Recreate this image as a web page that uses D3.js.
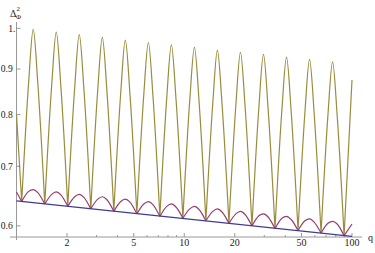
<!DOCTYPE html>
<html>
<head>
<meta charset="utf-8">
<script src="https://cdn.jsdelivr.net/npm/d3@7"></script>
<style>
  body { margin: 0; background: #fff; }
  svg { display: block; }
  text { font-family: "Liberation Serif", "DejaVu Serif", serif; fill: #222; }
</style>
</head>
<body>
<svg width="375" height="253"></svg>
<script>
// straight blue line (power law, straight on log-log axes)
var blueQ = [1, 100];
var blueVal = [0.640, 0.584];

// sample points: trough, rising side, top, falling side, ...
var qGrid = [1,
    1.074, 1.181, 1.258, 1.340,
    1.474, 1.621, 1.726, 1.839,
    2.021, 2.222, 2.367, 2.522,
    2.773, 3.049, 3.248, 3.460,
    3.803, 4.181, 4.454, 4.745,
    5.217, 5.736, 6.110, 6.509,
    7.155, 7.867, 8.380, 8.927,
    9.815, 10.79, 11.50, 12.25,
    13.46, 14.80, 15.76, 16.79,
    18.47, 20.31, 21.63, 23.04,
    25.33, 27.85, 29.67, 31.60,
    34.75, 38.21, 40.70, 43.36,
    47.67, 52.41, 55.83, 59.48,
    65.39, 71.90, 76.58, 81.59,
    89.71, 100];

var oliveVal = [0.80,
    0.639, 0.869, 0.997, 0.867,
    0.635, 0.863, 0.990, 0.860,
    0.631, 0.857, 0.984, 0.855,
    0.627, 0.852, 0.977, 0.850,
    0.623, 0.846, 0.970, 0.844,
    0.619, 0.841, 0.964, 0.839,
    0.615, 0.836, 0.958, 0.834,
    0.612, 0.831, 0.952, 0.829,
    0.608, 0.825, 0.945, 0.823,
    0.604, 0.820, 0.940, 0.818,
    0.600, 0.815, 0.935, 0.813,
    0.596, 0.810, 0.928, 0.808,
    0.593, 0.805, 0.923, 0.803,
    0.589, 0.800, 0.917, 0.798,
    0.585, 0.875];

var purpleVal = [0.655,
    0.639, 0.656, 0.659, 0.654,
    0.635, 0.651, 0.655, 0.650,
    0.631, 0.647, 0.651, 0.646,
    0.627, 0.643, 0.647, 0.642,
    0.623, 0.639, 0.643, 0.638,
    0.619, 0.635, 0.639, 0.634,
    0.615, 0.631, 0.635, 0.630,
    0.612, 0.627, 0.631, 0.626,
    0.608, 0.623, 0.627, 0.622,
    0.604, 0.619, 0.623, 0.618,
    0.600, 0.616, 0.619, 0.614,
    0.596, 0.612, 0.615, 0.610,
    0.593, 0.608, 0.611, 0.606,
    0.589, 0.604, 0.607, 0.603,
    0.585, 0.603];

var xTicks = [2, 5, 10, 20, 50, 100];
var xMinor = [3, 4, 6, 7, 8, 9, 30, 40, 60, 70, 80, 90];
var yTicks = [0.6, 0.7, 0.8, 0.9, 1];
var yTickLabels = ["0.6", "0.7", "0.8", "0.9", "1."];

var svg = d3.select("svg");

var x = d3.scaleLog().domain([1, 100]).range([16.5, 352]);
var y = d3.scaleLog().domain([0.6, 1]).range([225.9, 28.3]);

var axisColor = "#999";
var yCross = y(0.583);

// axes, Mathematica style (ticks pointing inwards)
var axes = svg.append("g").attr("class", "axes");
axes.append("line")
    .attr("x1", 10).attr("x2", 362)
    .attr("y1", yCross).attr("y2", yCross)
    .attr("stroke", axisColor).attr("stroke-width", 1);
axes.append("line")
    .attr("x1", x(1)).attr("x2", x(1))
    .attr("y1", 22).attr("y2", 240)
    .attr("stroke", axisColor).attr("stroke-width", 1);

axes.selectAll(".xtick")
    .data(xTicks)
    .enter().append("line")
    .attr("x1", function(d) { return x(d); })
    .attr("x2", function(d) { return x(d); })
    .attr("y1", yCross).attr("y2", yCross - 4)
    .attr("stroke", axisColor);
axes.selectAll(".xminor")
    .data(xMinor)
    .enter().append("line")
    .attr("x1", function(d) { return x(d); })
    .attr("x2", function(d) { return x(d); })
    .attr("y1", yCross).attr("y2", yCross - 2)
    .attr("stroke", axisColor);
axes.selectAll(".xlab")
    .data(xTicks)
    .enter().append("text")
    .attr("x", function(d) { return x(d); })
    .attr("y", yCross + 9)
    .attr("text-anchor", "middle")
    .attr("font-size", 10)
    .text(function(d) { return d; });

axes.selectAll(".ytick")
    .data(yTicks)
    .enter().append("line")
    .attr("x1", x(1)).attr("x2", x(1) + 4)
    .attr("y1", function(d) { return y(d); })
    .attr("y2", function(d) { return y(d); })
    .attr("stroke", axisColor);
axes.selectAll(".ylab")
    .data(yTicks)
    .enter().append("text")
    .attr("x", function(d) { return d === 1 ? 15.5 : 12.8; })
    .attr("y", function(d) { return y(d) + 3.4; })
    .attr("text-anchor", "end")
    .attr("font-size", 9.6)
    .text(function(d, i) { return yTickLabels[i]; });

// axis labels
var ylab = svg.append("text")
    .attr("x", 10).attr("y", 17)
    .attr("font-size", 10);
ylab.append("tspan").text("\u0394");
ylab.append("tspan").attr("font-size", 7).attr("dy", -6).text("2");
ylab.append("tspan").attr("font-size", 7).attr("dx", -4).attr("dy", 8).text("\u03A6");

svg.append("text")
    .attr("x", 368).attr("y", 240.5)
    .attr("font-size", 10)
    .text("q");

// cut a series into arches at its local minima so the troughs stay sharp
function arches(vals) {
    var segs = [];
    var cur = [];
    vals.forEach(function(v, i) {
        cur.push([qGrid[i], v]);
        var isMin = i > 0 && i < vals.length - 1 && v < vals[i - 1] && v < vals[i + 1];
        if (isMin) {
            segs.push(cur);
            cur = [[qGrid[i], v]];
        }
    });
    segs.push(cur);
    return segs;
}

var arch = d3.line()
    .x(function(d) { return x(d[0]); })
    .y(function(d) { return y(d[1]); })
    .curve(d3.curveMonotoneX);

function drawSeries(vals, color) {
    var d = arches(vals).map(function(s) { return arch(s); }).join("");
    svg.append("path")
        .attr("d", d)
        .attr("fill", "none")
        .attr("stroke", color)
        .attr("stroke-width", 1.2)
        .attr("stroke-linejoin", "round");
}

drawSeries(oliveVal, "#998c3d");
drawSeries(purpleVal, "#993d71");

svg.append("path")
    .datum(blueQ.map(function(q, i) { return [q, blueVal[i]]; }))
    .attr("d", d3.line()
        .x(function(d) { return x(d[0]); })
        .y(function(d) { return y(d[1]); }))
    .attr("fill", "none")
    .attr("stroke", "#3d3d99")
    .attr("stroke-width", 1.2);
</script>
</body>
</html>
